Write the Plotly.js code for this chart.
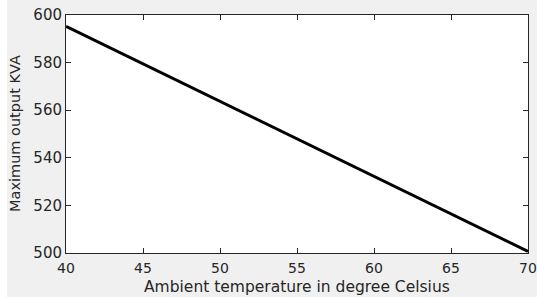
<!DOCTYPE html>
<html>
<head>
<meta charset="utf-8">
<script src="https://cdn.plot.ly/plotly-3.0.1.min.js"></script>
<style>
  html, body { margin: 0; padding: 0; background: #ffffff; }
  #chart { position: absolute; left: 7px; top: 0; width: 530px; height: 297px; }
</style>
</head>
<body>
<div id="chart"></div>
<script>
// Data
const temperature = [40, 70];           // Ambient temperature (°C)
const maxOutputKVA = [595.2, 500.7];    // Maximum output KVA

const xTicks = [40, 45, 50, 55, 60, 65, 70];
const yTicks = [500, 520, 540, 560, 580, 600];

const xTitle = 'Ambient temperature in degree Celsius';
const yTitle = 'Maximum output KVA';

const fontFamily = '"DejaVu Sans", Arial, sans-serif';
const textColor = '#262626';

const trace = {
  x: temperature,
  y: maxOutputKVA,
  type: 'scatter',
  mode: 'lines',
  line: { color: '#000000', width: 3 },
  hoverinfo: 'skip'
};

const axisCommon = {
  showgrid: false,
  zeroline: false,
  showline: true,
  linecolor: textColor,
  linewidth: 1,
  mirror: 'ticks',
  ticks: 'inside',
  ticklen: 5,
  tickwidth: 1,
  tickcolor: textColor
};

const layout = {
  width: 530,
  height: 297,
  margin: { l: 59, r: 9, t: 15, b: 44, pad: 0 },
  paper_bgcolor: '#f0f0f0',
  plot_bgcolor: '#ffffff',
  showlegend: false,
  xaxis: Object.assign({}, axisCommon, {
    range: [40, 70],
    tickmode: 'array',
    tickvals: xTicks,
    ticktext: xTicks.map(String),
    ticklabelstandoff: 2,
    tickfont: { family: fontFamily, size: 14, color: textColor }
  }),
  yaxis: Object.assign({}, axisCommon, {
    range: [500, 600],
    tickmode: 'array',
    tickvals: yTicks,
    ticktext: yTicks.map(String),
    tickfont: { family: fontFamily, size: 15, color: textColor }
  }),
  annotations: [
    {
      text: xTitle, xref: 'paper', yref: 'paper', x: 0.5, y: 0,
      xanchor: 'center', yanchor: 'middle', yshift: -33.5, showarrow: false,
      font: { family: fontFamily, size: 15.5, color: textColor }
    },
    {
      text: yTitle, xref: 'paper', yref: 'paper', x: 0, y: 0.5,
      xanchor: 'center', yanchor: 'middle', xshift: -51, textangle: -90, showarrow: false,
      font: { family: fontFamily, size: 14.5, color: textColor }
    }
  ]
};

Plotly.newPlot('chart', [trace], layout, { staticPlot: true, displayModeBar: false });
</script>
</body>
</html>
